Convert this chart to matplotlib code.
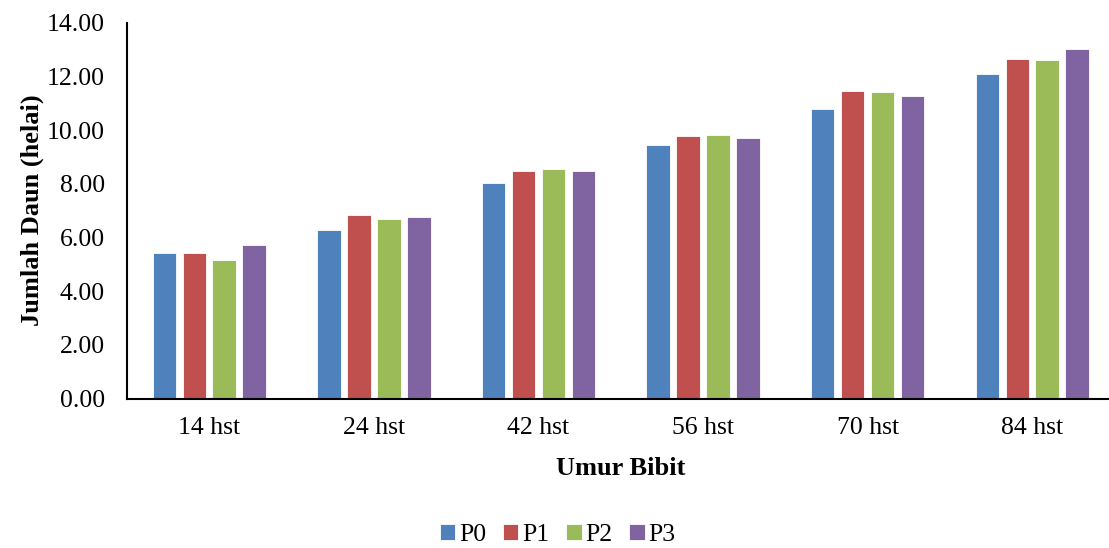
import numpy as np
import matplotlib.pyplot as plt

plt.rcParams["font.family"] = ["Liberation Serif", "DejaVu Serif"]

umur = ["14 hst", "24 hst", "42 hst", "56 hst", "70 hst", "84 hst"]
perlakuan = ["P0", "P1", "P2", "P3"]
p0 = [5.42, 6.29, 8.03, 9.44, 10.77, 12.11]
p1 = [5.42, 6.84, 8.48, 9.79, 11.44, 12.66]
p2 = [5.15, 6.69, 8.56, 9.83, 11.42, 12.61]
p3 = [5.71, 6.77, 8.48, 9.70, 11.29, 13.03]
warna = ["#4F81BD", "#C0504D", "#9BBB59", "#8064A2"]

fig = plt.figure(figsize=(11.09, 5.48), dpi=100)
ax = fig.add_axes([0.1145, 0.2728, 0.8905, 0.6856])

x = np.arange(len(umur))
lebar = 0.143
jarak = 0.182
for i, (nilai, nama) in enumerate(zip([p0, p1, p2, p3], perlakuan)):
    ax.bar(x + (i - 1.5) * jarak, nilai, lebar, color=warna[i], label=nama,
           edgecolor="white", linewidth=0.6, zorder=2)

ax.set_xlim(-0.5, 5.5)
ax.set_ylim(0, 14)
ax.set_yticks(np.arange(0, 14.1, 2))
ax.set_yticklabels([f"{v:.2f}" for v in np.arange(0, 14.1, 2)])
ax.set_xticks(x)
ax.set_xticklabels(umur)
ax.tick_params(axis="both", length=0, labelsize=18.5)
ax.tick_params(axis="y", pad=16)
ax.tick_params(axis="x", pad=13)

for s in ["top", "right"]:
    ax.spines[s].set_visible(False)
for s in ["left", "bottom"]:
    ax.spines[s].set_linewidth(1.5)
    ax.spines[s].set_color("black")

ax.set_ylabel("Jumlah Daun (helai)", fontsize=19, fontweight="bold", labelpad=2)
ax.set_xlabel("Umur Bibit", fontsize=19, fontweight="bold", labelpad=13)

fig.legend(loc="center", bbox_to_anchor=(0.503, 0.024), ncol=4, frameon=False,
           fontsize=18.5, handlelength=0.6, handleheight=0.6, handletextpad=0.15,
           columnspacing=0.65, borderpad=0.1)

fig.savefig("out.png", dpi=100)
